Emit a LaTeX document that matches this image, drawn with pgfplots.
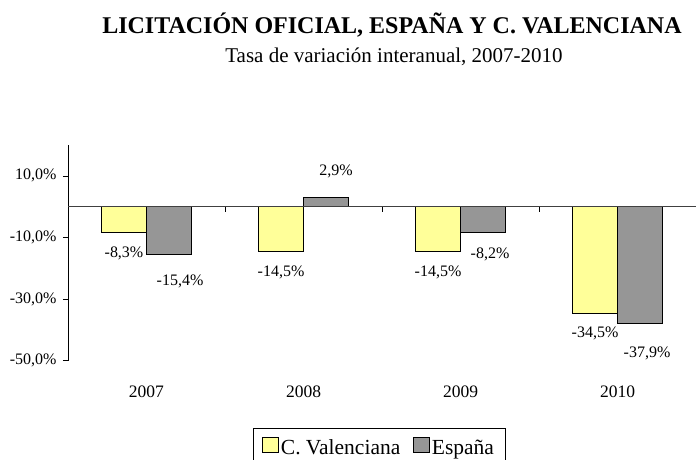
\documentclass[border=0pt]{standalone}
\usepackage{pgfplots}
\pgfplotsset{compat=1.18}
\usepackage{fontspec}
\setmainfont{Liberation Serif}
\definecolor{cvyellow}{HTML}{FFFF99}
\definecolor{esgray}{HTML}{969696}
\begin{document}
\begin{tikzpicture}[x=1pt,y=1pt]
\useasboundingbox (0,0) rectangle (696,-459);
\node[font=\bfseries\fontsize{24}{28}\selectfont, anchor=base] at (392,-33) {LICITACIÓN OFICIAL, ESPAÑA Y C. VALENCIANA};
\node[font=\fontsize{21}{24}\selectfont, anchor=base] at (394,-62) {Tasa de variación interanual, 2007-2010};
\begin{axis}[
 at={(68pt,-360.7pt)}, anchor=south west,
 scale only axis, width=628pt, height=215.7pt,
 xmin=-0.5, xmax=3.5, ymin=-50, ymax=20,
 ybar=0pt, bar width=45pt,
 axis lines*=left, x axis line style={draw=none},
 y axis line style={black, line width=0.6pt},
 ytick={-50,-30,-10,10}, xtick={0,1,2,3}, xticklabels={2007,2008,2009,2010},
 x tick style={draw=none},
 y tick style={black, line width=0.6pt}, tick align=outside, major tick length=5pt,
 /pgf/number format/assume math mode=true,
 yticklabel={\pgfmathprintnumber[fixed,fixed zerofill,precision=1,use comma]{\tick}\%},
 yticklabel style={font=\fontsize{16}{18}\selectfont, xshift=-3pt},
 xticklabel style={font=\fontsize{17.5}{20}\selectfont, anchor=base, yshift=-32pt},
 nodes near coords={\pgfmathprintnumber[fixed,fixed zerofill,precision=1,use comma]{\pgfplotspointmeta}\%},
 legend columns=2,
 legend style={at={(0.2946,-0.312)}, anchor=north west, draw=black, line width=0.6pt,
   font=\fontsize{21.5}{24}\selectfont, inner xsep=9pt, inner ysep=9pt,
   /tikz/every odd column/.append style={column sep=0pt},
   /tikz/every even column/.append style={column sep=11pt}},
 legend image code/.code={\draw[#1, draw=black, line width=0.6pt] (0pt,-5pt) rectangle (16pt,10pt);},
 clip=false,
]
\addplot[fill=cvyellow, draw=black, line width=0.6pt,
  visualization depends on={\thisrow{dx} \as \dx},
  visualization depends on={\thisrow{dy} \as \dy},
  nodes near coords style={anchor=center, xshift=\dx pt, yshift=\dy pt, font=\fontsize{16}{18}\selectfont, black}]
  table {
x y dx dy
0 -8.3 0 -21.5
1 -14.5 0 -21
2 -14.5 0 -21
3 -34.5 0 -20
};
\addlegendentry{C. Valenciana}
\addplot[fill=esgray, draw=black, line width=0.6pt,
  visualization depends on={\thisrow{dx} \as \dx},
  visualization depends on={\thisrow{dy} \as \dy},
  nodes near coords style={anchor=center, xshift=\dx pt, yshift=\dy pt, font=\fontsize{16}{18}\selectfont, black}]
  table {
x y dx dy
0 -15.4 11 -27
1 2.9 10 26.5
2 -8.2 7 -23
3 -37.9 7 -30
};
\addlegendentry{España}
\draw[black!75, line width=0.8pt] (axis cs:-0.5,0) -- (axis cs:3.5,0);
\draw[black, line width=0.6pt] ([yshift=-5pt]axis cs:0.5,0) -- (axis cs:0.5,0);
\draw[black, line width=0.6pt] ([yshift=-5pt]axis cs:1.5,0) -- (axis cs:1.5,0);
\draw[black, line width=0.6pt] ([yshift=-5pt]axis cs:2.5,0) -- (axis cs:2.5,0);
\end{axis}
\end{tikzpicture}
\end{document}
